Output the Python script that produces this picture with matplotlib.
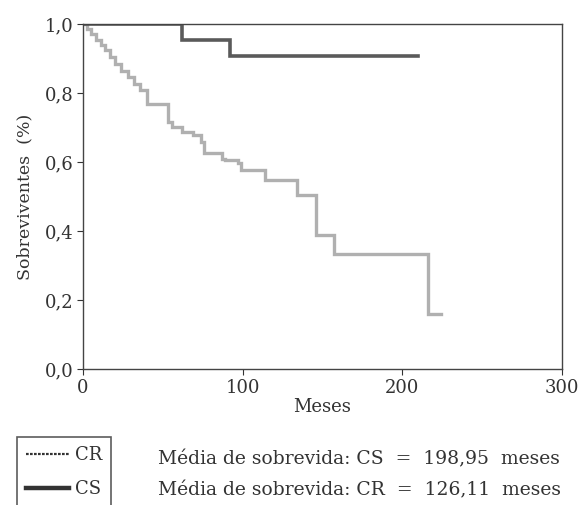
import matplotlib
matplotlib.use("Agg")
import matplotlib.pyplot as plt
from matplotlib.lines import Line2D

plt.rcParams['font.family'] = ['DejaVu Serif']

# Kaplan-Meier steps: event times (months) and survival after each event
cs_times = [0, 62, 92, 210]
cs_surv = [1.0, 0.955, 0.908, 0.908]

cr_times = [0, 2.5, 5, 8, 11, 14, 17, 20, 24, 28, 32, 36, 40, 53, 56, 62, 69,
            74, 76, 87, 89, 97, 99, 114, 134, 146, 157, 216, 224]
cr_surv = [1.0, 0.985, 0.97, 0.955, 0.94, 0.925, 0.905, 0.885, 0.865, 0.845,
           0.825, 0.81, 0.768, 0.715, 0.70, 0.687, 0.678, 0.658, 0.626, 0.61,
           0.606, 0.598, 0.577, 0.548, 0.504, 0.388, 0.333, 0.16, 0.16]

x_ticks = [0, 100, 200, 300]
y_ticks = [0.0, 0.2, 0.4, 0.6, 0.8, 1.0]
y_tick_labels = ['0,0', '0,2', '0,4', '0,6', '0,8', '1,0']

fig = plt.figure(figsize=(5.78, 5.05), dpi=100)
ax = fig.add_axes([83 / 578, 1 - 369 / 505, (562 - 83) / 578, (369 - 24) / 505])

ax.step(cr_times, cr_surv, where='post', color='#b0b0b0', lw=2.4, solid_joinstyle='miter')
ax.step(cs_times, cs_surv, where='post', color='#5a5a5a', lw=2.6, solid_joinstyle='miter')

ax.set_xlim(0, 300)
ax.set_ylim(0, 1.0)
ax.set_xticks(x_ticks)
ax.set_yticks(y_ticks)
ax.set_yticklabels(y_tick_labels)
ax.tick_params(direction='out', length=4, width=0.8, labelsize=13, colors='#333333',
               labelcolor='#333333', pad=3)
for s in ax.spines.values():
    s.set_color('#444444')
    s.set_linewidth(1.0)

ax.set_xlabel('Meses', fontsize=13, color='#333333', labelpad=1)
ax.set_ylabel('Sobreviventes  (%)', fontsize=12.5, color='#333333', labelpad=8)

handles = [
    Line2D([], [], color='#333333', lw=1.6, linestyle=(0, (1.2, 0.6))),
    Line2D([], [], color='#333333', lw=3.2),
]
leg = fig.legend(handles, ['CR', 'CS'], loc='upper left',
                 bbox_to_anchor=(17 / 578, 1 - 437 / 505), fontsize=13,
                 frameon=True, fancybox=False, edgecolor='#333333',
                 handlelength=2.4, handletextpad=0.3, labelspacing=0.9,
                 borderpad=0.5, borderaxespad=0)
leg.get_frame().set_linewidth(1.2)
for t in leg.get_texts():
    t.set_color('#333333')

fig.text(158 / 578, 1 - 459 / 505, 'Média de sobrevida: CS  =  198,95  meses',
         fontsize=13.5, color='#333333', va='center', ha='left')
fig.text(158 / 578, 1 - 490 / 505, 'Média de sobrevida: CR  =  126,11  meses',
         fontsize=13.5, color='#333333', va='center', ha='left')

fig.savefig('out.png', dpi=100, facecolor='white')
